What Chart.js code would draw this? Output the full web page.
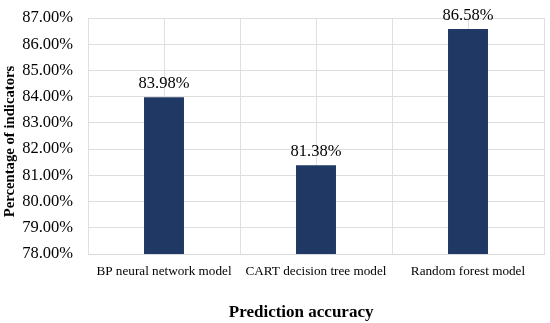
<!DOCTYPE html>
<html>
<head>
<meta charset="utf-8">
<script src="https://cdn.jsdelivr.net/npm/chart.js@4.4.1/dist/chart.umd.min.js"></script>
<style>
html,body{margin:0;padding:0;background:#fff;}
#wrap{width:550px;height:323px;position:relative;}
</style>
</head>
<body>
<div id="wrap"><canvas id="c" width="550" height="323"></canvas></div>
<script>
const categories = ["BP neural network model", "CART decision tree model", "Random forest model"];
const accuracy = [83.98, 81.38, 86.58];
const yTicks = [78, 79, 80, 81, 82, 83, 84, 85, 86, 87];
const gridLabels = ["", "", "", "", "", "", ""];

const FONT = "'Liberation Serif', 'Times New Roman', serif";

const valueLabels = {
  id: 'valueLabels',
  afterDatasetsDraw(chart) {
    const ctx = chart.ctx;
    const meta = chart.getDatasetMeta(0);
    ctx.save();
    ctx.font = "16.5px " + FONT;
    ctx.fillStyle = "#000";
    ctx.textAlign = "center";
    ctx.textBaseline = "bottom";
    meta.data.forEach((bar, i) => {
      ctx.fillText(accuracy[i].toFixed(2) + "%", bar.x, bar.y - 5);
    });
    ctx.restore();
  }
};

new Chart(document.getElementById('c'), {
  type: 'bar',
  data: {
    labels: categories,
    datasets: [{
      data: accuracy,
      backgroundColor: '#203864',
      borderWidth: 0,
      categoryPercentage: 1,
      barPercentage: 0.263
    }]
  },
  options: {
    responsive: false,
    animation: false,
    devicePixelRatio: 1,
    layout: { padding: { left: 0, right: 6, top: 18, bottom: 0 } },
    plugins: { legend: { display: false }, tooltip: { enabled: false } },
    scales: {
      x: {
        type: 'category',
        offset: true,
        afterFit(axis) { axis.height = 69; },
        grid: { display: false },
        border: { display: true, color: '#d9d9d9', width: 1 },
        ticks: { color: '#000', font: { family: FONT, size: 13.2 }, padding: 2, maxRotation: 0, autoSkip: false },
        title: { display: true, text: 'Prediction accuracy\u00A0\u00A0\u00A0\u00A0\u00A0\u00A0\u00A0', color: '#000', font: { family: FONT, size: 17, weight: 'bold' }, padding: { top: 0, bottom: 0 } }
      },
      x2: {
        type: 'category',
        labels: gridLabels,
        position: 'top',
        offset: false,
        display: true,
        afterFit(axis) { axis.height = 0; },
        ticks: { display: false, autoSkip: false },
        grid: { color: '#e0e0e0', lineWidth: 1, drawTicks: false, offset: false },
        border: { display: false }
      },
      y: {
        min: yTicks[0],
        max: yTicks[yTicks.length - 1],
        afterBuildTicks(axis) { axis.ticks = yTicks.map(v => ({ value: v })); },
        afterFit(axis) { axis.width = 88; axis.paddingTop = 0; axis.paddingBottom = 0; },
        grid: { color: '#dedede', lineWidth: 1, drawTicks: false },
        border: { display: false },
        ticks: {
          color: '#000',
          font: { family: FONT, size: 16.5 },
          padding: 15,
          callback: v => Number(v).toFixed(2) + '%'
        },
        title: { display: true, text: 'Percentage of indicators\u00A0\u00A0\u00A0', color: '#000', font: { family: FONT, size: 14.7, weight: 'bold' }, padding: { top: 1, bottom: 4 } }
      }
    }
  },
  plugins: [valueLabels]
});
</script>
</body>
</html>
